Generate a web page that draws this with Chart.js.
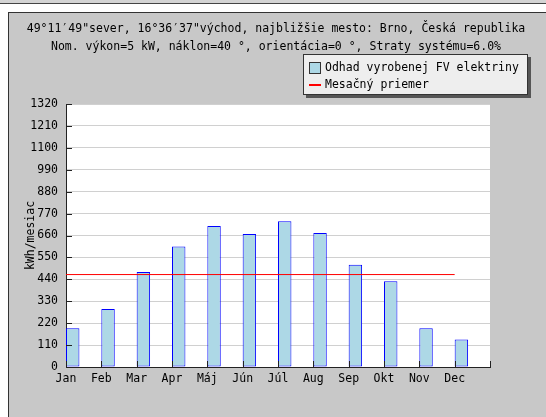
<!DOCTYPE html>
<html>
<head>
<meta charset="utf-8">
<script src="https://cdn.jsdelivr.net/npm/chart.js@4.4.0/dist/chart.umd.min.js"></script>
<style>
  body { margin: 0; background: #fff; }
  canvas { display: block; }
</style>
</head>
<body>
<canvas id="chartBox" width="546" height="417"></canvas>
<script>
// data
const months = ['Jan', 'Feb', 'Mar', 'Apr', 'Máj', 'Jún', 'Júl', 'Aug', 'Sep', 'Okt', 'Nov', 'Dec'];
const production = [194, 291, 477, 605, 708, 668, 731, 673, 513, 431, 195, 138];
const monthlyAvg = 464;
const yMin = 0;
const yMax = 1320;
const yStep = 110;
const titleLines = [
  '49°11′49"sever, 16°36′37"východ, najbližšie mesto: Brno, Česká republika',
  'Nom. výkon=5 kW, náklon=40 °, orientácia=0 °, Straty systému=6.0%'
];
const seriesLabel = 'Odhad vyrobenej FV elektriny';
const avgLabel = 'Mesačný priemer';
const yTitle = 'kWh/mesiac';

// bars sit to the right of each month tick, like the original
const barFrac = 0.38;
const barPoints = production.map((v, i) => ({ x: i + barFrac / 2, y: v }));
const avgPoints = [{ x: 0, y: monthlyAvg }, { x: months.length - 1, y: monthlyAvg }];

const FONT = 'DejaVu Sans Mono';
Chart.defaults.font.family = FONT;
Chart.defaults.font.size = 11.5;
Chart.defaults.color = '#000';

const background = {
  id: 'background',
  beforeDraw(chart) {
    const { ctx, width, height, chartArea: a } = chart;
    ctx.save();
    ctx.fillStyle = '#fff';
    ctx.fillRect(0, 0, width, height);
    ctx.fillStyle = '#d4d4d4';
    ctx.fillRect(0, 0, width, 3);
    ctx.fillStyle = '#444';
    ctx.fillRect(0, 3, width, 1);
    // grey panel
    ctx.fillStyle = '#c8c8c8';
    ctx.fillRect(8, 12, width - 8, height - 12);
    ctx.fillStyle = '#333';
    ctx.fillRect(8, 12, width - 8, 1);
    ctx.fillRect(8, 12, 1, height - 12);
    // plot area
    ctx.fillStyle = '#fff';
    ctx.fillRect(a.left, a.top, a.right - a.left, a.bottom - a.top);
    // titles
    ctx.fillStyle = '#000';
    ctx.font = '11.5px ' + FONT;
    ctx.textAlign = 'center';
    ctx.textBaseline = 'alphabetic';
    ctx.fillText(titleLines[0], 276, 32);
    ctx.fillText(titleLines[1], 276, 50);
    ctx.restore();
  }
};

const innerTicks = {
  id: 'innerTicks',
  afterDatasetsDraw(chart) {
    const { ctx, scales: { x, y } } = chart;
    ctx.save();
    ctx.strokeStyle = '#222';
    ctx.lineWidth = 1;
    ctx.beginPath();
    y.ticks.forEach((t, i) => {
      const py = Math.round(y.getPixelForTick(i)) + 0.5;
      ctx.moveTo(x.left, py);
      ctx.lineTo(x.left + 6, py);
    });
    x.ticks.forEach((t, i) => {
      const px = Math.round(x.getPixelForTick(i)) + 0.5;
      ctx.moveTo(px, y.bottom);
      ctx.lineTo(px, y.bottom - 6);
    });
    ctx.stroke();
    ctx.restore();
  }
};

const boxLegend = {
  id: 'boxLegend',
  afterDraw(chart) {
    const { ctx } = chart;
    const ds = chart.data.datasets;
    ctx.save();
    ctx.fillStyle = '#555';
    ctx.fillRect(306, 57, 225, 41);
    ctx.fillStyle = '#eeeeee';
    ctx.fillRect(303, 54, 225, 41);
    ctx.strokeStyle = '#333';
    ctx.lineWidth = 1;
    ctx.strokeRect(303.5, 54.5, 224, 40);
    // bar item
    ctx.fillStyle = ds[0].backgroundColor;
    ctx.fillRect(309, 62, 11, 11);
    ctx.strokeStyle = '#333';
    ctx.strokeRect(309.5, 62.5, 11, 11);
    // line item
    ctx.strokeStyle = ds[1].borderColor;
    ctx.lineWidth = 2;
    ctx.beginPath();
    ctx.moveTo(309, 85);
    ctx.lineTo(321, 85);
    ctx.stroke();
    ctx.fillStyle = '#000';
    ctx.font = '11.5px ' + FONT;
    ctx.textAlign = 'left';
    ctx.textBaseline = 'middle';
    ctx.fillText(ds[0].label, 325, 68);
    ctx.fillText(ds[1].label, 325, 85);
    ctx.restore();
  }
};

new Chart(document.getElementById('chartBox').getContext('2d'), {
  data: {
    datasets: [
      {
        type: 'bar',
        label: seriesLabel,
        data: barPoints,
        backgroundColor: '#add8e6',
        borderColor: '#0000ff',
        borderWidth: 1,
        borderSkipped: false,
        categoryPercentage: 1,
        barPercentage: barFrac,
        order: 2
      },
      {
        type: 'line',
        label: avgLabel,
        data: avgPoints,
        borderColor: '#ff0000',
        borderWidth: 1,
        pointRadius: 0,
        order: 1
      }
    ]
  },
  options: {
    responsive: false,
    animation: false,
    layout: { padding: { top: 104, right: 56, bottom: 0, left: 0 } },
    plugins: {
      legend: { display: false },
      tooltip: { enabled: false }
    },
    scales: {
      x: {
        type: 'linear',
        offset: false,
        min: 0,
        max: months.length,
        afterFit: s => { s.height = 50; },
        afterBuildTicks: s => { s.ticks = months.map((m, i) => ({ value: i })).concat([{ value: months.length }]); },
        ticks: {
          padding: 5,
          maxRotation: 0,
          autoSkip: false,
          callback: v => months[v] || ''
        },
        grid: { display: false, drawTicks: false },
        border: { display: true, color: '#222' }
      },
      y: {
        min: yMin,
        max: yMax,
        afterFit: s => { s.width = 66; },
        ticks: { stepSize: yStep, padding: 8, callback: v => String(v) },
        grid: { color: '#d0d0d0', drawTicks: false },
        border: { display: true, color: '#222' },
        title: {
          display: true,
          text: yTitle,
          padding: { top: 24, bottom: 0 }
        }
      }
    }
  },
  plugins: [background, innerTicks, boxLegend]
});
</script>
</body>
</html>
